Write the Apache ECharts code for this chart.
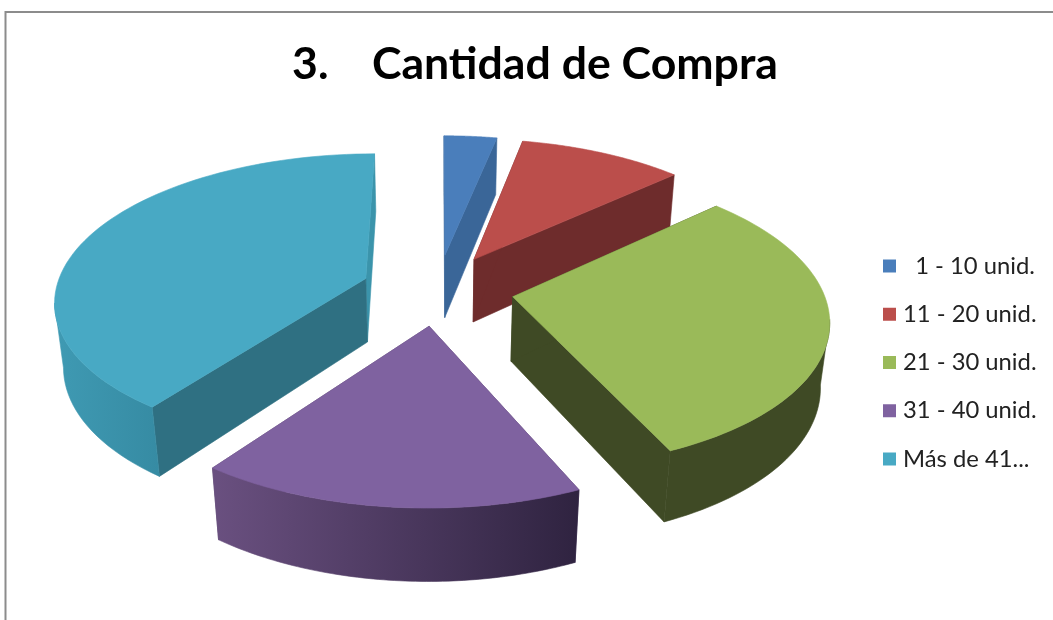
<!DOCTYPE html>
<html><head><meta charset="utf-8">
<script src="https://cdn.jsdelivr.net/npm/echarts@6/dist/echarts.min.js"></script>
<style>html,body{margin:0;padding:0;background:#fff}#c{width:1053px;height:620px}</style>
</head><body><div id="c"></div>
<script>
const categories = ['  1 - 10 unid.', '11 - 20 unid.', '21 - 30 unid.', '31 - 40 unid.', 'Más de 41...'];
const values = [3.2, 10, 30.1, 16.8, 39.9];
const topColors = ['#4a7ebb', '#bb4e4b', '#9aba59', '#7f62a0', '#48a9c4'];
const startCutColors = ['#3a6698', '#6e2c2c', '#3f4a25', '#5a466f', '#2f7082'];
const endCutColors = ['#3a6698', '#6e2c2c', '#3f4a25', '#5a466f', '#3b94ab'];
const wallStops = [
  ['#3a6698', '#3a6698'], ['#6e2c2c', '#6e2c2c'], ['#3f4a25', '#3f4a25'],
  ['#6a5080', '#2f2340'], ['#3f9ab3', '#368ba3']
];
const titleText = '3.    Cantidad de Compra';

const view = {cx: 437.5, cy: 289.5, R: 310, Rb: 145, H: 65, k: 0.14, m: 0.0235, my: 0.015, explode: 0.246};
const total = values.reduce((a, b) => a + b, 0);
function project(u, v, z) {
  const sx = 1 / (1 - view.k * v + view.m * z);
  const sy = 1 / (1 - view.k * v + view.my * z);
  return [view.cx + view.R * u * sx, view.cy + view.Rb * v * sy + view.H * z * sy];
}
function sliceRender(i) {
  return function (params, api) {
    const before = values.slice(0, i).reduce((a, b) => a + b, 0);
    const a0 = before / total * 2 * Math.PI;
    const a1 = (before + api.value(0)) / total * 2 * Math.PI;
    const mid = (a0 + a1) / 2;
    const ax = view.explode * Math.sin(mid), ay = -view.explode * Math.cos(mid);
    const rim = (t, z) => project(ax + Math.sin(t), ay - Math.cos(t), z);
    const apex = z => project(ax, ay, z);
    const steps = 72;
    const arc = [];
    const wallAngles = [];
    for (let n = 0; n <= steps; n++) {
      const t = a0 + (a1 - a0) * n / steps;
      arc.push(rim(t, 0));
      if (-Math.cos(t) > 0.14) wallAngles.push(t);
    }
    const poly = (points, fill) => ({type: 'polygon', shape: {points}, style: {fill, stroke: fill, lineWidth: 0.6}});
    const children = [
      poly([apex(0), rim(a1, 0), rim(a1, 1), apex(1)], endCutColors[i]),
      poly([apex(0), rim(a0, 0), rim(a0, 1), apex(1)], startCutColors[i])
    ];
    if (wallAngles.length > 1) {
      const pts = wallAngles.map(t => rim(t, 0)).concat(wallAngles.slice().reverse().map(t => rim(t, 1)));
      children.push(poly(pts, new echarts.graphic.LinearGradient(0, 0, 1, 0, [
        {offset: 0, color: wallStops[i][0]}, {offset: 1, color: wallStops[i][1]}
      ])));
    }
    children.push(poly([apex(0)].concat(arc), topColors[i]));
    return {type: 'group', children};
  };
}
const chart = echarts.init(document.getElementById('c'), null, {renderer: 'canvas'});
chart.setOption({
  animation: false,
  backgroundColor: '#fff',
  title: {
    text: titleText, left: 530, top: 37, textAlign: 'center',
    textStyle: {fontFamily: 'Lato', fontWeight: 'bold', fontSize: 44.6, color: '#000'}
  },
  legend: {
    orient: 'vertical', left: 883, top: 254, itemWidth: 13, itemHeight: 13, itemGap: 24.25, icon: 'rect',
    padding: 0, selectedMode: false,
    data: categories.map((name, i) => ({name, itemStyle: {color: topColors[i]}})),
    textStyle: {fontFamily: 'Lato', fontSize: 23.8, color: '#222', padding: [0, 0, 0, 2], height: 22, lineHeight: 22}
  },
  graphic: [
    {type: 'polyline', silent: true, shape: {points: [[5.5, 620], [5.5, 12], [1053, 12]]}, style: {stroke: '#8c8c8c', lineWidth: 2, fill: null}}
  ],
  series: categories.map((name, i) => ({
    type: 'custom', name, coordinateSystem: 'none', silent: true,
    itemStyle: {color: topColors[i]},
    data: [[values[i]]],
    renderItem: sliceRender(i)
  }))
});
</script></body></html>
